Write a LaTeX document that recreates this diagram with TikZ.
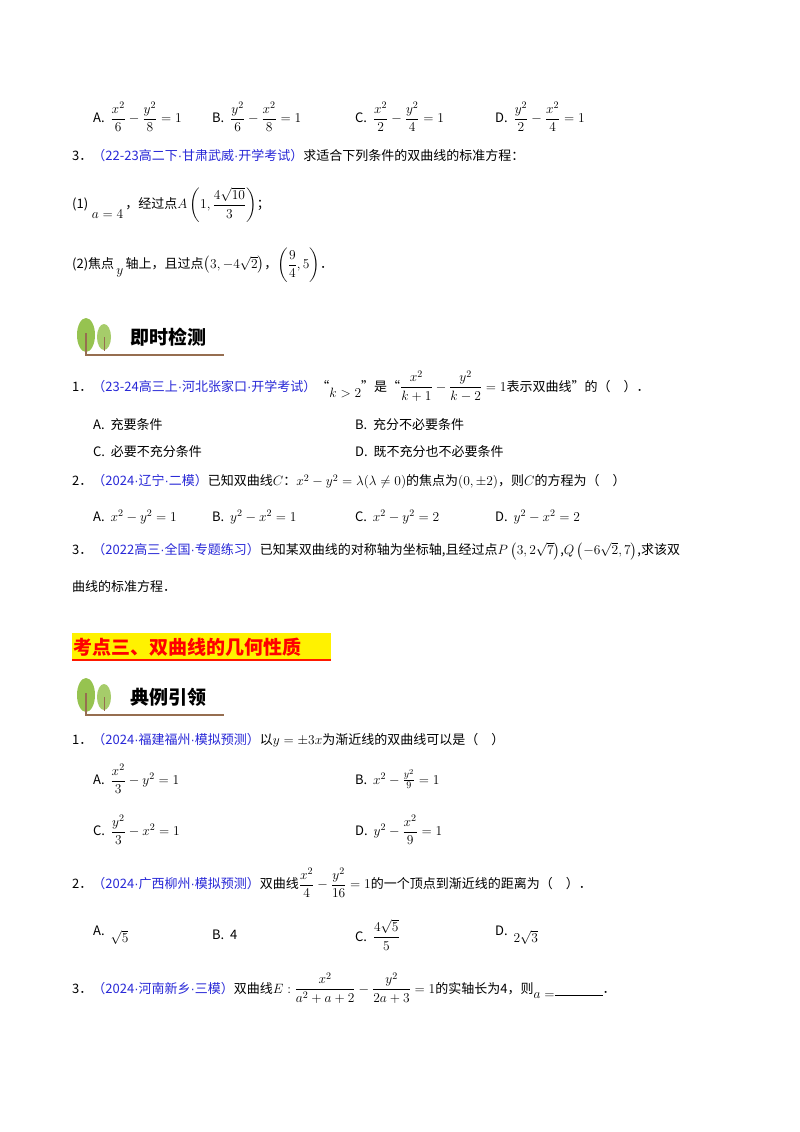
\documentclass[tikz,border=0pt]{standalone}
\usepackage{fix-cm}
\usepackage{fontspec}
\usepackage{amsmath}
\DeclareMathSizes{13}{13.5}{10}{7.5}
\DeclareMathSizes{10.95}{11}{8}{6}
\setmainfont{Noto Sans CJK SC}
\newfontfamily\latf{Liberation Sans}
\definecolor{srcblue}{RGB}{40,40,215}
\definecolor{leafg}{RGB}{150,195,80}
\definecolor{trunk}{RGB}{150,110,80}
\tikzset{
  t/.style={anchor=west,inner sep=0pt,font=\fontsize{13}{15}\selectfont},
  hd/.style={anchor=west,inner sep=0pt,font=\fontsize{19}{21}\selectfont\bfseries}
}
\newcommand{\src}[1]{\textcolor{srcblue}{#1}}
\newcommand{\dt}{{\latf ·}}
\newcommand{\treehead}[3]{%
  \fill[leafg] (#1+14,#2+22) ellipse (9 and 17);
  \fill[leafg!85] (#1+32,#2+24) ellipse (7 and 13);
  \draw[trunk,line width=1.2pt] (#1+14,#2+20) -- (#1+14,#2+42) -- (#1+152,#2+42);
  \draw[trunk,line width=1pt] (#1+32,#2+24) -- (#1+32,#2+38);
  \node[hd] at (#1+58,#2+24) {#3};}
\begin{document}
\begin{tikzpicture}[x=1pt,y=-1pt]
\useasboundingbox[fill=white] (0,0) rectangle (800,1132);
\node[t] (a1) at (93,117) {A.\ \ $\dfrac{x^2}{6}-\dfrac{y^2}{8}=1$};
\node[t] (b1) at (212,117) {B.\ \ $\dfrac{y^2}{6}-\dfrac{x^2}{8}=1$};
\node[t] (c1) at (355,117) {C.\ \ $\dfrac{x^2}{2}-\dfrac{y^2}{4}=1$};
\node[t] (d1) at (495,117) {D.\ \ $\dfrac{y^2}{2}-\dfrac{x^2}{4}=1$};
\node[t] (q3) at (72,156) {3．\src{（22-23高二下\dt 甘肃武威\dt 开学考试）}求适合下列条件的双曲线的标准方程：};
\node[t] (p1) at (72,205) {(1)\raisebox{-10pt}{$\;a=4$}\,，经过点$A\left(1,\dfrac{4\sqrt{10}}{3}\right)$；};
\node[t] (p2) at (72,265) {(2)焦点\raisebox{-6pt}{$\,y\,$}轴上，且过点$\left(3,-4\sqrt{2}\right)$，$\left(\dfrac{9}{4},5\right)$．};
\treehead{72}{313}{即时检测}
\node[t] (r1) at (72,386) {1．\src{（23-24高三上\dt 河北张家口\dt 开学考试）}“\raisebox{-6pt}{$k>2$}”是“$\dfrac{x^2}{k+1}-\dfrac{y^2}{k-2}=1$表示双曲线”的（\quad）．};
\node[t] (r1a) at (93,425) {A.\ \ 充要条件};
\node[t] (r1b) at (355,425) {B.\ \ 充分不必要条件};
\node[t] (r1c) at (93,452) {C.\ \ 必要不充分条件};
\node[t] (r1d) at (355,452) {D.\ \ 既不充分也不必要条件};
\node[t] (r2) at (72,482) {2．\src{（2024\dt 辽宁\dt 二模）}已知双曲线$C$：$x^2-y^2=\lambda(\lambda\neq0)$的焦点为$(0,\pm2)$，则$C$的方程为（\quad）};
\node[t] (r2a) at (93,517) {A.\ \ $x^2-y^2=1$};
\node[t] (r2b) at (212,517) {B.\ \ $y^2-x^2=1$};
\node[t] (r2c) at (355,517) {C.\ \ $x^2-y^2=2$};
\node[t] (r2d) at (495,517) {D.\ \ $y^2-x^2=2$};
\node[t] (r3) at (72,551) {3．\src{（2022高三\dt 全国\dt 专题练习）}已知某双曲线的对称轴为坐标轴,且经过点$P\left(3,2\sqrt{7}\right)$,$Q\left(-6\sqrt{2},7\right)$,求该双};
\node[t] (r3b) at (72,587) {曲线的标准方程．};
\fill[yellow] (72,633) rectangle (331,660);
\draw[red!80!orange,line width=1.2pt] (72,660) -- (331,660);
\node[hd,text=red] (sec) at (73,647) {考点三、双曲线的几何性质};
\treehead{72}{673}{典例引领}
\node[t] (s1) at (72,740) {1．\src{（2024\dt 福建福州\dt 模拟预测）}以$y=\pm3x$为渐近线的双曲线可以是（\quad）};
\node[t] (s1a) at (93,779) {A.\ \ $\dfrac{x^2}{3}-y^2=1$};
\node[t] (s1b) at (355,779) {B.\ \ $x^2-\frac{y^2}{9}=1$};
\node[t] (s1c) at (93,830) {C.\ \ $\dfrac{y^2}{3}-x^2=1$};
\node[t] (s1d) at (355,830) {D.\ \ $y^2-\dfrac{x^2}{9}=1$};
\node[t] (s2) at (72,883) {2．\src{（2024\dt 广西柳州\dt 模拟预测）}双曲线$\dfrac{x^2}{4}-\dfrac{y^2}{16}=1$的一个顶点到渐近线的距离为（\quad）．};
\node[t] (s2a) at (93,935) {A.\ \ \raisebox{-7pt}{$\sqrt{5}$}};
\node[t] (s2b) at (212,935) {B.\ \ 4};
\node[t] (s2c) at (355,935) {C.\ \ $\dfrac{4\sqrt{5}}{5}$};
\node[t] (s2d) at (495,935) {D.\ \ \raisebox{-7pt}{$2\sqrt{3}$}};
\node[t] (s3) at (72,988) {3．\src{（2024\dt 河南新乡\dt 三模）}双曲线$E:\dfrac{x^2}{a^2+a+2}-\dfrac{y^2}{2a+3}=1$的实轴长为4，则\raisebox{-5pt}{$a=$}\underline{\hspace{48pt}}．};
\end{tikzpicture}
\end{document}
